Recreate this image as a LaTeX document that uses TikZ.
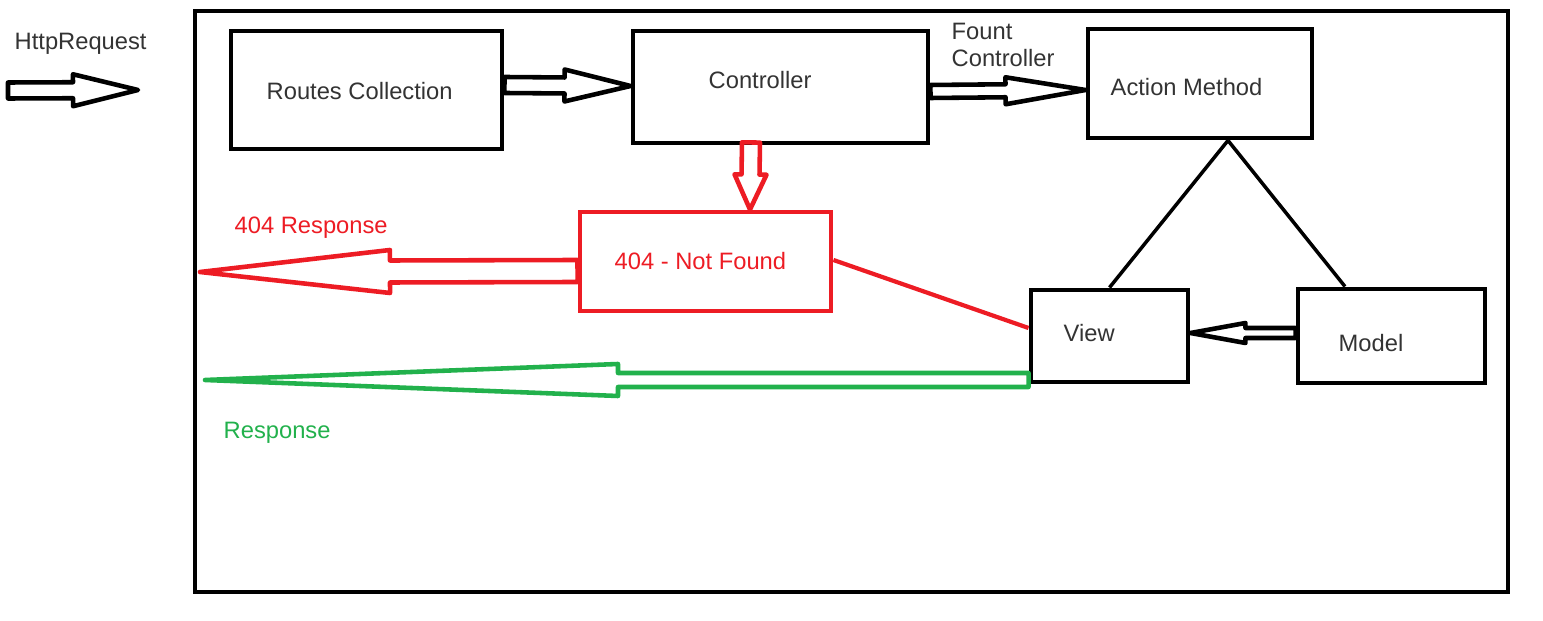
\documentclass[tikz,border=0pt]{standalone}
\usepackage{fontspec}
\setmainfont{Liberation Sans}
\usetikzlibrary{calc}
\definecolor{paintred}{RGB}{237,28,36}
\definecolor{paintgreen}{RGB}{34,177,76}

% block arrow: #1 colour, #2 tail, #3 tip, #4 half shaft, #5 half head, #6 head length
\newcommand{\blockarrow}[6][black]{%
  \coordinate (ba) at ($(#3)!#6!(#2)$);
  \draw[#1, line width=1.3pt, line join=round]
    ($(#2)!#4!90:(#3)$) -- ($(ba)!#4!90:(#3)$) -- ($(ba)!#5!90:(#3)$) -- (#3)
    -- ($(ba)!#5!-90:(#3)$) -- ($(ba)!#4!-90:(#3)$) -- ($(#2)!#4!-90:(#3)$) -- cycle;
}

\begin{document}
\begin{tikzpicture}[font=\fontsize{6.75}{8}\selectfont]
\tikzstyle{box}=[rectangle,draw,line width=1.4pt,inner sep=0]
\tikzstyle{txt}=[inner sep=0,anchor=base west,text=black!80]

    \useasboundingbox (0,0) rectangle (15.43,-6.21);

    % boxes
    \node[box, minimum width=13.13cm, minimum height=5.81cm] (frame) at (8.515,-3.015){};
    \node[box, minimum width=2.71cm, minimum height=1.18cm] (routes) at (3.665,-0.90){};
    \node[box, minimum width=2.95cm, minimum height=1.12cm] (ctrl) at (7.805,-0.87){};
    \node[box, minimum width=2.24cm, minimum height=1.09cm] (action) at (12.00,-0.835){};
    \node[box, draw=paintred, minimum width=2.51cm, minimum height=0.99cm] (nf) at (7.055,-2.615){};
    \node[box, minimum width=1.57cm, minimum height=0.92cm] (view) at (11.095,-3.36){};
    \node[box, minimum width=1.87cm, minimum height=0.94cm] (model) at (13.915,-3.36){};

    % texts
    \node[txt] (reqtxt) at (0.14,-0.50){HttpRequest};
    \node[txt] (routestxt) at (2.66,-0.995){Routes Collection};
    \node[txt] (ctrltxt) at (7.08,-0.885){Controller};
    \node[txt] (actiontxt) at (11.10,-0.955){Action Method};
    \node[txt] (fount1) at (9.51,-0.395){Fount};
    \node[txt] (fount2) at (9.51,-0.665){Controller};
    \node[txt, text=paintred] (nftxt) at (6.14,-2.695){404 - Not Found};
    \node[txt, text=paintred] (resp404) at (2.34,-2.335){404 Response};
    \node[txt] (viewtxt) at (10.63,-3.415){View};
    \node[txt] (modeltxt) at (13.38,-3.515){Model};
    \node[txt, text=paintgreen] (resptxt) at (2.23,-4.385){Response};

    % arrow ends
    \coordinate (req1) at (0.08,-0.905);
    \coordinate (req2) at (1.38,-0.90);
    \coordinate (rc1) at ($(routes.east)+(0,0.05)$);
    \coordinate (rc2) at ($(ctrl.west)+(0,0.01)$);
    \coordinate (ca1) at ($(ctrl.east)+(0,-0.045)$);
    \coordinate (ca2) at ($(action.west)+(0,-0.065)$);
    \coordinate (cn1) at ($(ctrl.south)+(-0.295,0.03)$);
    \coordinate (cn2) at ($(nf.north)+(0.445,0)$);
    \coordinate (nr1) at ($(nf.west)+(0,-0.095)$);
    \coordinate (nr2) at (2.00,-2.72);
    \coordinate (vr1) at ($(view.west)+(0,-0.44)$);
    \coordinate (vr2) at (2.05,-3.80);
    \coordinate (mv1) at ($(model.west)+(0,0.03)$);
    \coordinate (mv2) at ($(view.east)+(0,0.03)$);

    \blockarrow{req1}{req2}{0.08cm}{0.16cm}{0.65cm}
    \blockarrow{rc1}{rc2}{0.08cm}{0.16cm}{0.66cm}
    \blockarrow{ca1}{ca2}{0.065cm}{0.135cm}{0.80cm}
    \blockarrow[paintred]{cn1}{cn2}{0.09cm}{0.16cm}{0.35cm}
    \blockarrow[paintred]{nr1}{nr2}{0.11cm}{0.215cm}{1.90cm}
    \blockarrow[paintgreen]{vr1}{vr2}{0.07cm}{0.16cm}{4.13cm}
    \blockarrow{mv1}{mv2}{0.05cm}{0.10cm}{0.55cm}

    % plain lines
    \draw[line width=1pt] ([xshift=0.28cm]action.south) -- (view.north);
    \draw[line width=1pt] ([xshift=0.28cm]action.south) -- ([xshift=-0.465cm]model.north);
    \draw[line width=1.2pt, paintred] ([yshift=0.015cm]nf.east) -- ([yshift=0.08cm]view.west);

\end{tikzpicture}
\end{document}
